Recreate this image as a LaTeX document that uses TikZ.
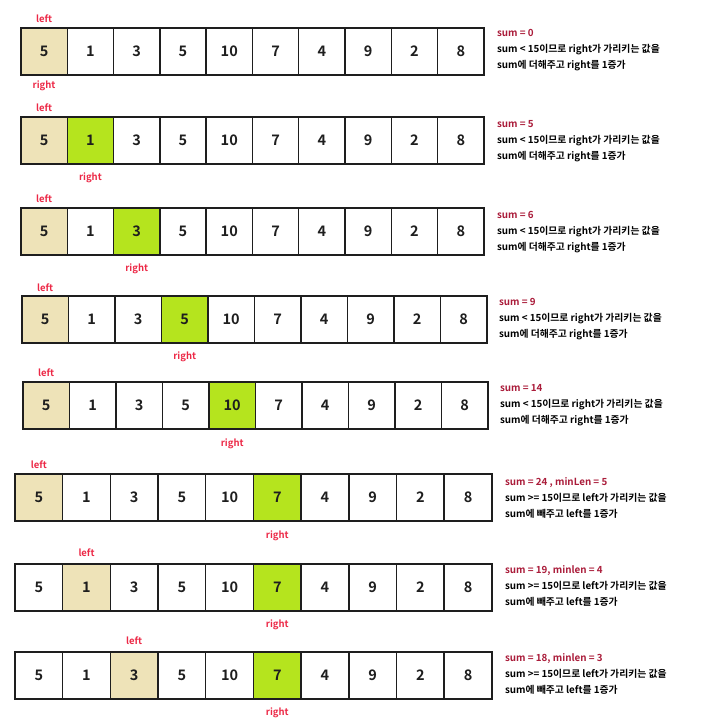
\documentclass[tikz,border=0pt]{standalone}
\usepackage{fontspec}
\setmainfont{Noto Sans CJK KR}[BoldFont={Noto Sans CJK KR Bold}]
\usepackage{tikz}
\usetikzlibrary{matrix,positioning}

\definecolor{leftfill}{RGB}{238,227,184}
\definecolor{rightfill}{RGB}{181,228,30}
\definecolor{ptrred}{RGB}{236,40,70}
\definecolor{sumred}{RGB}{170,28,58}
\definecolor{ink}{RGB}{30,30,30}

\tikzset{
    arrrow/.style={matrix of nodes, inner sep=0pt, anchor=north west,
        column sep=-1.5pt,
        nodes={rectangle, draw=ink, line width=1.5pt, inner sep=0pt,
            minimum width=#1, minimum height=47pt, text=ink,
            font=\bfseries\fontsize{14.5}{14.5}\selectfont}},
    lcell/.style={fill=leftfill},
    rcell/.style={fill=rightfill},
    ptr/.style={text=ptrred, inner sep=0pt,
        font=\bfseries\fontsize{9.5}{10}\selectfont},
    note/.style={anchor=north west, align=left, inner sep=0pt,
        font=\bfseries\fontsize{9.8}{16}\selectfont}
}

\begin{document}
\begin{tikzpicture}[x=1pt, y=-1pt]
    \useasboundingbox (0,0) rectangle (710,721);

    % sum < 15 : right moves
    \matrix (r1) [arrrow=46.3pt] at (20,27) {
|[lcell]| 5 & 1 & 3 & 5 & 10 & 7 & 4 & 9 & 2 & 8 \\
    };
    \node[ptr, above=5pt of r1-1-1] (l1) {left};
    \node[ptr, below=5pt of r1-1-1] (p1) {right};
    \node[note] (t1) at ([xshift=12pt, yshift=-2pt]r1.north east)
        {\textcolor{sumred}{sum = 0}\\sum < 15이므로 right가 가리키는 값을\\sum에 더해주고 right를 1증가};

    \matrix (r2) [arrrow=46.3pt] at (20,116) {
|[lcell]| 5 & |[rcell]| 1 & 3 & 5 & 10 & 7 & 4 & 9 & 2 & 8 \\
    };
    \node[ptr, above=5pt of r2-1-1] (l2) {left};
    \node[ptr, below=8pt of r2-1-2] (p2) {right};
    \node[note] (t2) at ([xshift=12pt, yshift=-4pt]r2.north east)
        {\textcolor{sumred}{sum = 5}\\sum < 15이므로 right가 가리키는 값을\\sum에 더해주고 right를 1증가};

    \matrix (r3) [arrrow=46.3pt] at (20,207) {
|[lcell]| 5 & 1 & |[rcell]| 3 & 5 & 10 & 7 & 4 & 9 & 2 & 8 \\
    };
    \node[ptr, above=5pt of r3-1-1] (l3) {left};
    \node[ptr, below=8pt of r3-1-3] (p3) {right};
    \node[note] (t3) at ([xshift=12pt, yshift=-4pt]r3.north east)
        {\textcolor{sumred}{sum = 6}\\sum < 15이므로 right가 가리키는 값을\\sum에 더해주고 right를 1증가};

    \matrix (r4) [arrrow=46.5pt] at (21,295) {
|[lcell]| 5 & 1 & 3 & |[rcell]| 5 & 10 & 7 & 4 & 9 & 2 & 8 \\
    };
    \node[ptr, above=4pt of r4-1-1] (l4) {left};
    \node[ptr, below=8pt of r4-1-4] (p4) {right};
    \node[note] (t4) at ([xshift=11pt, yshift=-3pt]r4.north east)
        {\textcolor{sumred}{sum = 9}\\sum < 15이므로 right가 가리키는 값을\\sum에 더해주고 right를 1증가};

    \matrix (r5) [arrrow=46.5pt] at (22,381) {
|[lcell]| 5 & 1 & 3 & 5 & |[rcell]| 10 & 7 & 4 & 9 & 2 & 8 \\
    };
    \node[ptr, above=5pt of r5-1-1] (l5) {left};
    \node[ptr, below=9pt of r5-1-5] (p5) {right};
    \node[note] (t5) at ([xshift=11pt, yshift=-3pt]r5.north east)
        {\textcolor{sumred}{sum = 14}\\sum < 15이므로 right가 가리키는 값을\\sum에 더해주고 right를 1증가};

    % sum >= 15 : left moves
    \matrix (r6) [arrrow=47.7pt] at (14,473) {
|[lcell]| 5 & 1 & 3 & 5 & 10 & |[rcell]| 7 & 4 & 9 & 2 & 8 \\
    };
    \node[ptr, above=5pt of r6-1-1] (l6) {left};
    \node[ptr, below=9pt of r6-1-6] (p6) {right};
    \node[note] (t6) at ([xshift=12pt, yshift=-4pt]r6.north east)
        {\textcolor{sumred}{sum = 24 , minLen = 5}\\sum >= 15이므로 left가 가리키는 값을\\sum에 빼주고 left를 1증가};

    \matrix (r7) [arrrow=47.7pt] at (14,563) {
5 & |[lcell]| 1 & 3 & 5 & 10 & |[rcell]| 7 & 4 & 9 & 2 & 8 \\
    };
    \node[ptr, above=6pt of r7-1-2] (l7) {left};
    \node[ptr, below=8pt of r7-1-6] (p7) {right};
    \node[note] (t7) at ([xshift=12pt, yshift=-2pt]r7.north east)
        {\textcolor{sumred}{sum = 19, minlen = 4}\\sum >= 15이므로 left가 가리키는 값을\\sum에 빼주고 left를 1증가};

    \matrix (r8) [arrrow=47.7pt] at (14,651) {
5 & 1 & |[lcell]| 3 & 5 & 10 & |[rcell]| 7 & 4 & 9 & 2 & 8 \\
    };
    \node[ptr, above=6pt of r8-1-3] (l8) {left};
    \node[ptr, below=8pt of r8-1-6] (p8) {right};
    \node[note] (t8) at ([xshift=12pt, yshift=-2pt]r8.north east)
        {\textcolor{sumred}{sum = 18, minlen = 3}\\sum >= 15이므로 left가 가리키는 값을\\sum에 빼주고 left를 1증가};
\end{tikzpicture}
\end{document}
